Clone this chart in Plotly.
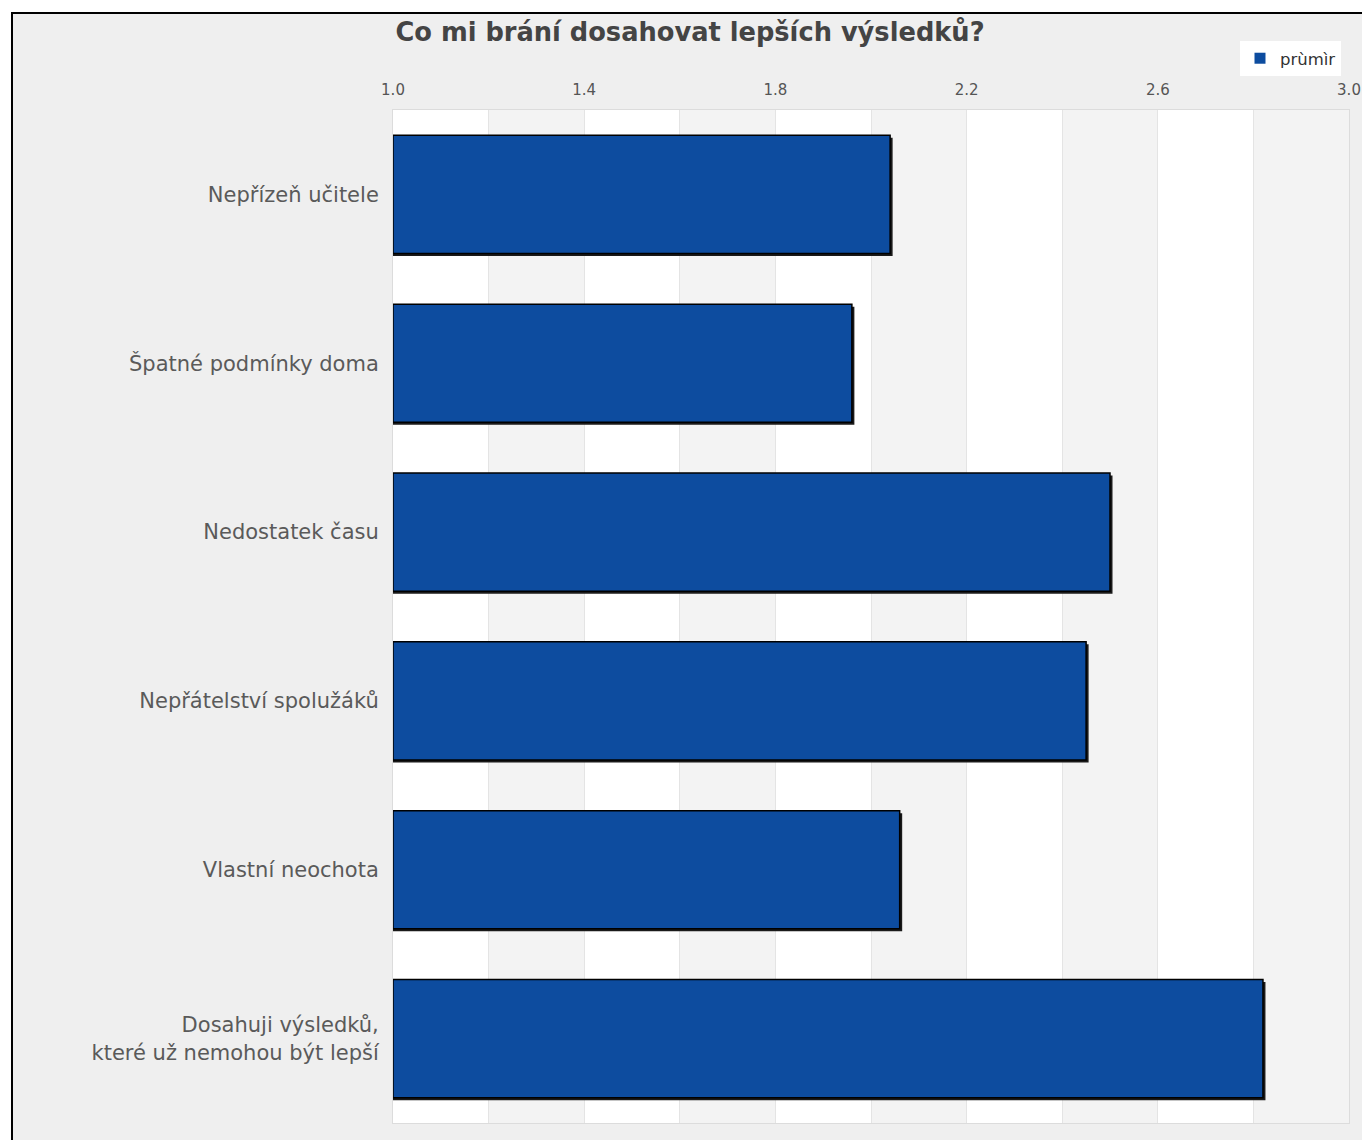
import plotly.graph_objects as go
import numpy as np

# ---- data ----
title_text = "Co mi brání dosahovat lepších výsledků?"
series_name = "prùmìr"
categories = [
    "Nepřízeň učitele",
    "Špatné podmínky doma",
    "Nedostatek času",
    "Nepřátelství spolužáků",
    "Vlastní neochota",
    "Dosahuji výsledků,<br>které už nemohou být lepší",
]
values = [2.04, 1.96, 2.50, 2.45, 2.06, 2.82]
x_min, x_max = 1.0, 3.0
tick_step = 0.2
tick_vals = [round(v, 1) for v in np.arange(x_min, x_max + 1e-9, tick_step)]
tick_text = [f"{v:.1f}" if i % 2 == 0 else "" for i, v in enumerate(tick_vals)]

# ---- layout geometry ----
W, H = 1362, 1140
ML, MR, MT, MB = 393, 13, 110, 17
PW, PH = W - ML - MR, H - MT - MB


def px_x(p):
    return (p - ML) / PW


def px_y(p):
    return (H - MB - p) / PH


FONT = "DejaVu Sans, Verdana, sans-serif"
TXT = "#555555"
BAR_W = 0.70
SHADOW_PX = 2.5
units_per_px_x = (x_max - x_min) / PW
units_per_px_y = len(categories) / PH

fig = go.Figure()
# drop shadow of the bars
fig.add_trace(go.Bar(
    y=categories, x=[v - x_min + SHADOW_PX * units_per_px_x for v in values], base=x_min,
    orientation="h", marker=dict(color="#1a1a1a", line=dict(width=0)),
    width=BAR_W, offset=-BAR_W / 2 + SHADOW_PX * units_per_px_y,
    showlegend=False, hoverinfo="skip",
))
fig.add_trace(go.Bar(
    y=categories, x=[v - x_min for v in values], base=x_min, orientation="h", name=series_name,
    marker=dict(color="#0d4c9f", line=dict(color="#000000", width=1.5)),
    width=BAR_W, offset=-BAR_W / 2, showlegend=False,
))
# legend entry (plain square like the reference)
fig.add_trace(go.Scatter(
    x=[None], y=[None], mode="markers", name=series_name,
    marker=dict(symbol="square", size=11, color="#0d4c9f", line=dict(width=0)),
))

shapes = []
# alternating bands
for i, v in enumerate(tick_vals[:-1]):
    if i % 2 == 1:
        shapes.append(dict(type="rect", xref="x", yref="paper", x0=v, x1=v + tick_step,
                           y0=0, y1=1, fillcolor="#f3f3f3", line=dict(width=0), layer="below"))
# outer white margin + black frame
shapes.append(dict(type="rect", xref="paper", yref="paper", x0=px_x(-5), x1=px_x(11), y0=px_y(H + 5), y1=px_y(-5),
                   fillcolor="white", line=dict(width=0), layer="above"))
shapes.append(dict(type="rect", xref="paper", yref="paper", x0=px_x(-5), x1=px_x(W + 5), y0=px_y(12), y1=px_y(-5),
                   fillcolor="white", line=dict(width=0), layer="above"))
shapes.append(dict(type="line", xref="paper", yref="paper", x0=px_x(12), x1=px_x(12), y0=px_y(12), y1=px_y(H + 5),
                   line=dict(color="black", width=2), layer="above"))
shapes.append(dict(type="line", xref="paper", yref="paper", x0=px_x(11), x1=px_x(W + 5), y0=px_y(13), y1=px_y(13),
                   line=dict(color="black", width=2), layer="above"))

fig.update_layout(
    width=W, height=H,
    margin=dict(l=ML, r=MR, t=MT, b=MB, pad=0, autoexpand=False),
    paper_bgcolor="#efefef", plot_bgcolor="white",
    font=dict(family=FONT, color=TXT),
    barmode="overlay",
    title=dict(text=f"<b>{title_text}</b>", x=690 / W, xref="container", xanchor="center",
               y=1 - 32 / H, yref="container", yanchor="middle",
               font=dict(family=FONT, size=25.7, color="#444444")),
    legend=dict(x=1240 / W, xref="container", y=1 - 41 / H, yref="container",
                xanchor="left", yanchor="top", bgcolor="white",
                font=dict(family=FONT, size=16.5, color="#333333"),
                itemclick=False, itemdoubleclick=False),
    shapes=shapes,
    xaxis=dict(range=[x_min, x_max], side="top", tickvals=tick_vals, ticktext=tick_text,
               showgrid=True, gridcolor="#e4e4e4", gridwidth=1, zeroline=False,
               showline=True, linecolor="#dcdcdc", linewidth=1, mirror=True,
               ticks="outside", ticklen=8, tickcolor="rgba(0,0,0,0)",
               tickfont=dict(family=FONT, size=15, color=TXT), fixedrange=True),
    yaxis=dict(type="category", range=[len(categories) - 0.5, -0.5],
               showgrid=False, zeroline=False, showline=True, linecolor="#dcdcdc", mirror=True,
               ticks="outside", ticklen=9, tickcolor="rgba(0,0,0,0)",
               tickfont=dict(family=FONT, size=21, color="#5a5a5a"), fixedrange=True),
)

fig.write_html(
    "out.html",
    config={"displayModeBar": False},
    post_script="document.body.style.margin='0';document.body.style.overflow='hidden';",
)
